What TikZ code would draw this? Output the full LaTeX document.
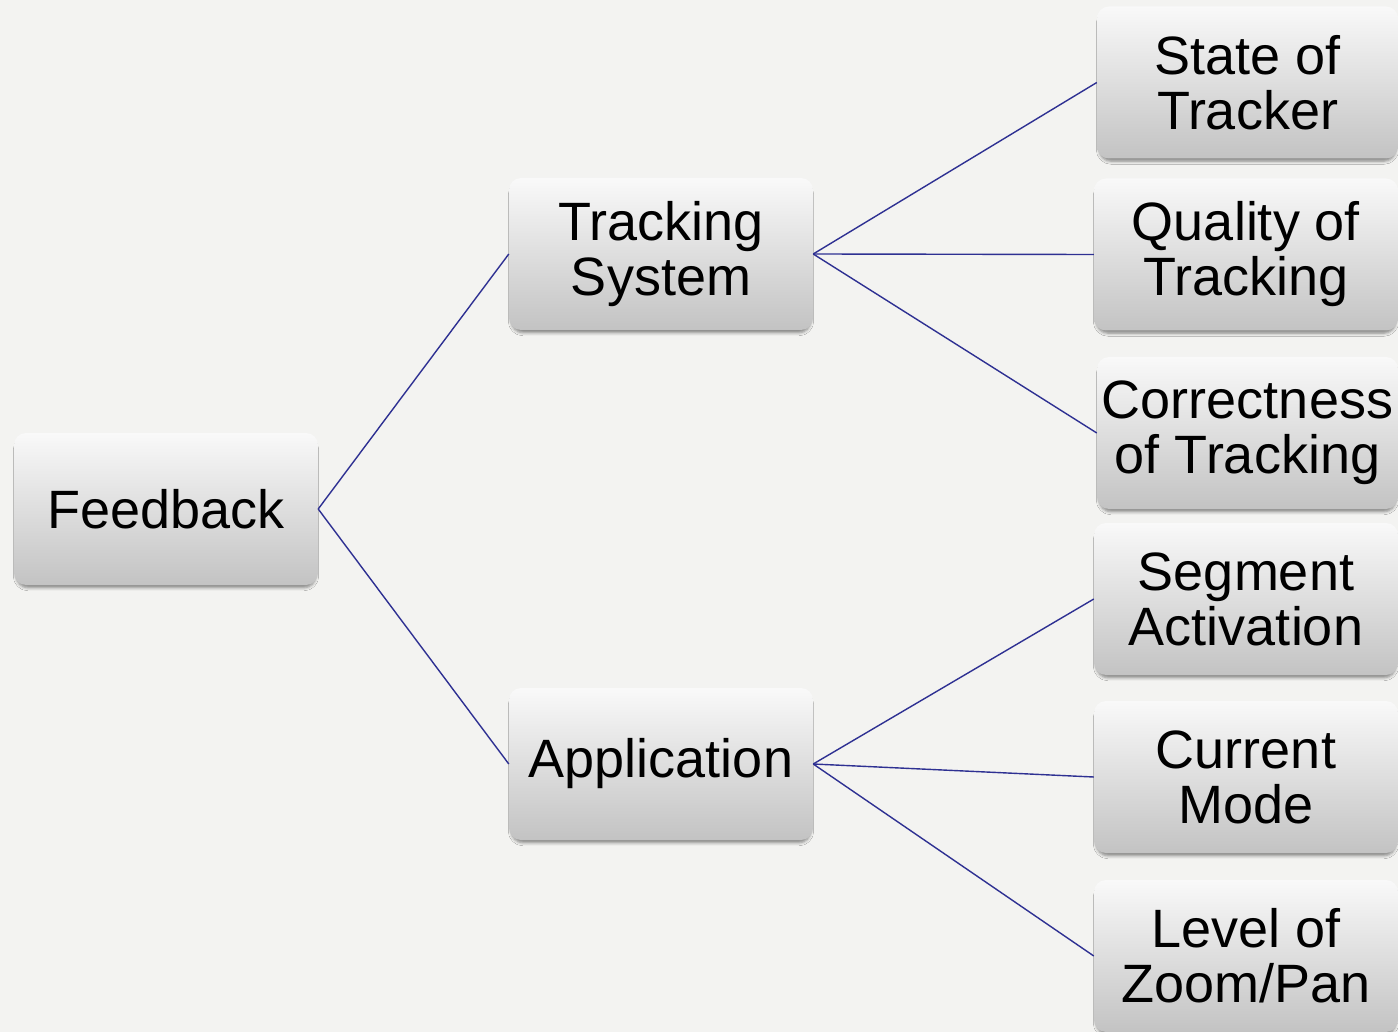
\documentclass[tikz,border=0pt]{standalone}
\usepackage{fontspec}
\setmainfont{Liberation Sans}
\usetikzlibrary{shadows.blur}
\definecolor{bgc}{HTML}{F3F3F1}
\definecolor{linec}{HTML}{2E3092}
\definecolor{topc}{HTML}{F9F9F9}
\definecolor{botc}{HTML}{C3C3C3}
\tikzset{
  box/.style={rounded corners=12pt, top color=topc, bottom color=botc, draw=none,
    minimum width=#1, minimum height=152pt, align=center, inner sep=0pt,
    font=\fontsize{54}{55}\selectfont,
    blur shadow={shadow xshift=0pt, shadow yshift=-4pt, shadow blur radius=3pt, shadow blur extra rounding=2pt, shadow scale=0.985, shadow opacity=45}},
  box/.default=304pt,
  conn/.style={draw=linec, line width=1.4pt}
}
\begin{document}
\begin{tikzpicture}[x=1pt,y=-1pt]
\fill[bgc] (0,0) rectangle (1398,1032);
\clip (0,0) rectangle (1398,1032);
\useasboundingbox (0,0) rectangle (1398,1032);
\node[box] (fb) at (166,509) {Feedback};
\node[box] (ts) at (661,254) {Tracking\\System};
\node[box] (ap) at (661,764) {Application};
\node[box=301pt] (st) at (1247.5,82.5) {State of\\Tracker};
\node[box] (qt) at (1246,254.5) {Quality of\\Tracking};
\node[box=301pt] (ct) at (1247.5,433) {Correctness\\of Tracking};
\node[box] (sa) at (1246,599) {Segment\\Activation};
\node[box] (cm) at (1246,777) {Current\\Mode};
\node[box] (lz) at (1246,956) {Level of\\Zoom/Pan};
\draw[conn] (fb.east) -- (ts.west);
\draw[conn] (fb.east) -- (ap.west);
\draw[conn] (ts.east) -- (st.west);
\draw[conn] (ts.east) -- (qt.west);
\draw[conn] (ts.east) -- (ct.west);
\draw[conn] (ap.east) -- (sa.west);
\draw[conn] (ap.east) -- (cm.west);
\draw[conn] (ap.east) -- (lz.west);
\end{tikzpicture}
\end{document}
